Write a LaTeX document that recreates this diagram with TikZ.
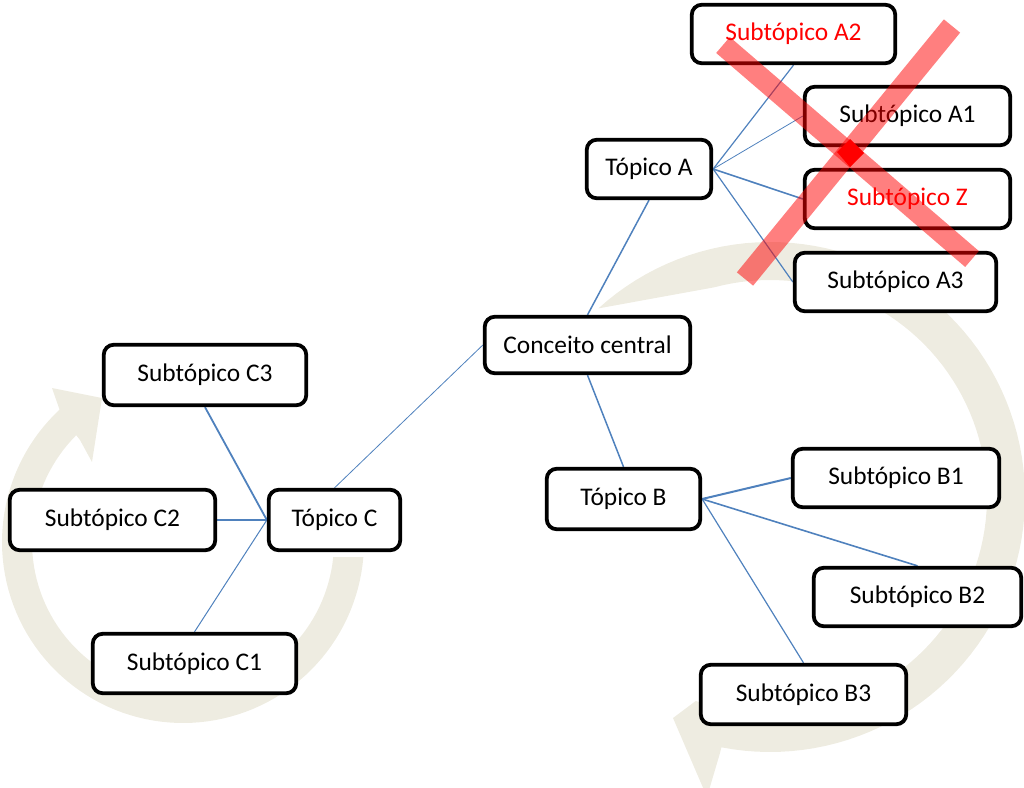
\documentclass[tikz,border=0pt]{standalone}
\usepackage{fontspec}
\setmainfont{Carlito}
\definecolor{beige}{RGB}{238,236,225}
\definecolor{linkblue}{RGB}{79,129,189}
\pgfdeclarelayer{bglayer}
\pgfsetlayers{bglayer,main}
\begin{document}
\begin{tikzpicture}[x=1pt,y=-1pt,
  box/.style={draw=black, line width=3.8pt, rounded corners=10pt, fill=white,
    inner sep=0pt, font=\fontsize{25.4}{30}\selectfont},
  redtext/.style={text=red},
  link/.style={draw=linkblue},
  xbar/.style={draw=red, draw opacity=0.5, line width=21pt, line cap=butt},
  cycle fill/.style={fill=beige}]
\useasboundingbox (0,0) rectangle (1024,787);

% nodes
\node[box, minimum width=203.5pt, minimum height=58.5pt, redtext] (A2) at (793.5,34) {Subtópico A2};
\node[box, minimum width=205.5pt, minimum height=58.5pt] (A1) at (907.5,116) {Subtópico A1};
\node[box, minimum width=205.5pt, minimum height=58.5pt, redtext] (Z) at (907.5,199) {Subtópico Z};
\node[box, minimum width=201.5pt, minimum height=58.5pt] (A3) at (895.5,282) {Subtópico A3};
\node[box, minimum width=124.5pt, minimum height=58.5pt] (TA) at (649,169) {Tópico A};
\node[box, minimum width=205.5pt, minimum height=56.5pt] (CC) at (587.5,345) {Conceito central};
\node[box, minimum width=153.5pt, minimum height=60.5pt] (TB) at (623.5,499) {Tópico B};
\node[box, minimum width=206.5pt, minimum height=58.5pt] (B1) at (896,478) {Subtópico B1};
\node[box, minimum width=207.5pt, minimum height=58.5pt] (B2) at (917.5,597) {Subtópico B2};
\node[box, minimum width=205.5pt, minimum height=59.5pt] (B3) at (803.5,694.5) {Subtópico B3};
\node[box, minimum width=202.5pt, minimum height=60.5pt] (C3) at (205,375) {Subtópico C3};
\node[box, minimum width=205.5pt, minimum height=60.5pt] (C2) at (112.5,520) {Subtópico C2};
\node[box, minimum width=131.5pt, minimum height=60.5pt] (TC) at (334.5,520) {Tópico C};
\node[box, minimum width=203.5pt, minimum height=59.5pt] (C1) at (194.5,663.5) {Subtópico C1};

\begin{pgfonlayer}{bglayer}
% circular arrows (background)
\begin{scope}
\clip (0,0) rectangle (1024,787);
\fill[cycle fill] plot[domain=227.7:461, samples=90] ({770+255*cos(\x)},{497+255*sin(\x)})
  -- (720,753) -- (707,797) -- (673,718)
  -- plot[domain=470:255, samples=90] ({770+217*cos(\x)},{497+217*sin(\x)}) -- cycle;
\fill[cycle fill] plot[domain=4.8:227, samples=90] ({183+181*cos(\x)},{542+181*sin(\x)})
  -- (52,388) -- (102,398) -- (92,462) -- (80,440)
  -- plot[domain=225:5.7, samples=90] ({183+151*cos(\x)},{542+151*sin(\x)}) -- cycle;
\end{scope}
% connectors
\draw[link, line width=1.5pt] (CC.north) -- (TA.south);
\draw[link, line width=1.5pt] (CC.south) -- (TB.north);
\draw[link, line width=0.8pt] (TC.north) -- (CC.west);
\draw[link, line width=1.8pt] (C3.south) -- (TC.west);
\draw[link, line width=1.8pt] (C2.east) -- (TC.west);
\draw[link, line width=1pt] (C1.north) -- (TC.west);
\draw[link, line width=1.2pt] (TA.east) -- (A2.south);
\draw[link, line width=0.8pt] (TA.east) -- (A1.west);
\draw[link, line width=1.6pt] (TA.east) -- (Z.west);
\draw[link, line width=1.2pt] (TA.east) -- (A3.west);
\draw[link, line width=2pt] (TB.east) -- (B1.west);
\draw[link, line width=1.6pt] (TB.east) -- (B2.north);
\draw[link, line width=1.2pt] (TB.east) -- (B3.north);
\end{pgfonlayer}

% red cross
\coordinate (xa1) at (723,45);
\coordinate (xa2) at (972,259);
\coordinate (xb1) at (952,26);
\coordinate (xb2) at (745,279);
\draw[xbar] (xa1) -- (xa2);
\draw[xbar] (xb1) -- (xb2);
\fill[red] (837,152) -- (850,139) -- (864,153) -- (850,167) -- cycle;
\end{tikzpicture}
\end{document}
